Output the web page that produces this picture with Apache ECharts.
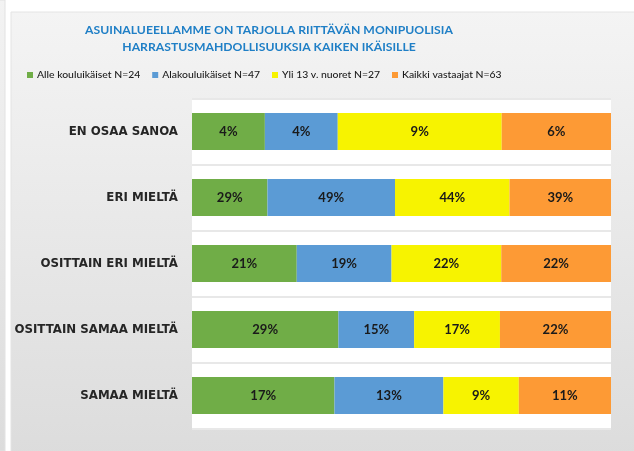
<!DOCTYPE html>
<html>
<head>
<meta charset="utf-8">
<script src="https://cdn.jsdelivr.net/npm/echarts@6/dist/echarts.min.js"></script>
<style>
html,body{margin:0;padding:0;background:#fff;}
#chart{width:634px;height:451px;}
</style>
</head>
<body>
<div id="chart"></div>
<script>
var kategoriat = ['EN OSAA SANOA', 'ERI MIELTÄ', 'OSITTAIN ERI MIELTÄ', 'OSITTAIN SAMAA MIELTÄ', 'SAMAA MIELTÄ'];
var sarjat = ['Alle kouluikäiset N=24', 'Alakouluikäiset N=47', 'Yli 13 v. nuoret N=27', 'Kaikki vastaajat N=63'];
var alle = [4, 29, 21, 29, 17];
var ala = [4, 49, 19, 15, 13];
var yli = [9, 44, 22, 17, 9];
var kaikki = [6, 39, 22, 22, 11];
var varit = ['#70ad47', '#5b9bd5', '#f7f300', '#fd9a35'];

var arvot = [alle, ala, yli, kaikki];
// rivin summa -> palkit täyttävät koko leveyden (100 % pinottu)
var summat = kategoriat.map(function (k, i) {
  var s = 0;
  arvot.forEach(function (a) { s += a[i]; });
  return s;
});

var mychart = echarts.init(document.getElementById('chart'));
var option = {
  backgroundColor: '#fff',
  animation: false,
  graphic: [
    { type: 'rect', shape: { x: -2, y: 0, width: 7, height: 451 },
      style: { fill: new echarts.graphic.LinearGradient(0, 0, 0, 1, [{ offset: 0, color: '#f3f3f3' }, { offset: 1, color: '#dcdcdc' }]), stroke: '#e2e2e2' }, z: -10 },
    { type: 'rect', shape: { x: 11, y: 12, width: 630, height: 445 },
      style: { fill: new echarts.graphic.LinearGradient(0, 0, 0, 1, [{ offset: 0, color: '#f4f4f4' }, { offset: 1, color: '#dcdcdc' }]), stroke: '#e4e4e4', lineWidth: 1 }, z: -10 }
  ],
  title: {
    text: 'ASUINALUEELLAMME ON TARJOLLA RIITTÄVÄN MONIPUOLISIA\nHARRASTUSMAHDOLLISUUKSIA KAIKEN IKÄISILLE',
    left: 264,
    top: 17,
    textAlign: 'center',
    textStyle: {
      fontFamily: 'Lato',
      fontSize: 12.2,
      fontWeight: 'bold',
      color: '#1f7fc6',
      lineHeight: 17,
      align: 'center'
    }
  },
  legend: {
    top: 65,
    left: 22,
    itemWidth: 6,
    itemHeight: 6,
    itemGap: 12,
    icon: 'rect',
    textStyle: { fontFamily: 'Lato', fontSize: 10.4, fontWeight: 500, color: '#1a1a1a', padding: [0, 0, 0, -1] },
    data: sarjat
  },
  grid: {
    left: 192,
    right: 23,
    top: 98.5,
    bottom: 22.5,
    show: true,
    backgroundColor: '#fff',
    borderWidth: 0
  },
  xAxis: {
    type: 'value',
    min: 0,
    max: 1,
    show: false
  },
  yAxis: {
    type: 'category',
    inverse: true,
    data: kategoriat,
    axisLine: { show: false },
    axisTick: { show: false },
    splitLine: { show: true, lineStyle: { color: '#e8e8e8', width: 2 } },
    axisLabel: {
      margin: 14,
      fontFamily: 'DejaVu Sans',
      fontSize: 11.8,
      fontWeight: 'bold',
      color: '#262626'
    }
  },
  series: sarjat.map(function (nimi, s) {
    return {
      name: nimi,
      type: 'bar',
      stack: 'yht',
      barWidth: '56%',
      itemStyle: { color: varit[s] },
      label: {
        show: true,
        position: 'inside',
        fontFamily: 'Lato',
        fontSize: 13,
        fontWeight: 'bold',
        color: '#1a1a1a',
        formatter: function (p) { return arvot[s][p.dataIndex] + '%'; }
      },
      data: arvot[s].map(function (v, i) { return v / summat[i]; })
    };
  })
};
mychart.setOption(option);
</script>
</body>
</html>
